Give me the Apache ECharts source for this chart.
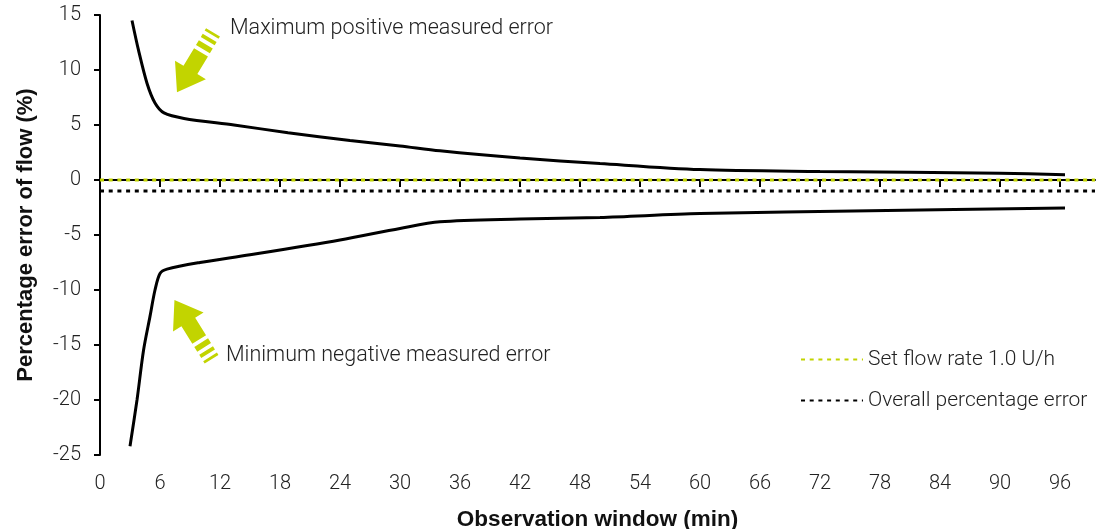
<!DOCTYPE html>
<html>
<head>
<meta charset="utf-8">
<script src="https://cdn.jsdelivr.net/npm/echarts@6/dist/echarts.min.js"></script>
<style>
  html, body { margin: 0; padding: 0; background: #fff; }
  #chart { width: 1098px; height: 529px; }
</style>
</head>
<body>
<div id="chart"></div>
<script>
// observation window (min) vs percentage error (%)
const maxX = [3.2, 3.85, 4.7, 5.5, 6.4, 8.4, 13.4, 18.8, 25, 30, 34, 42, 50, 60, 72, 90, 96.5]
const maxY = [14.5, 11.8, 8.8, 7.0, 6.1, 5.6, 5.0, 4.3, 3.6, 3.1, 2.65, 2.0, 1.5, 0.95, 0.78, 0.62, 0.48]
const minX = [3.0, 3.7, 4.35, 5.0, 5.5, 6.0, 6.7, 10, 15, 24, 30, 34, 42, 50, 60, 77, 96.5]
const minY = [-24.2, -20, -15.5, -12.4, -10, -8.5, -8.1, -7.5, -6.8, -5.45, -4.4, -3.8, -3.55, -3.4, -3.05, -2.8, -2.55]
const setFlow = 0
const overallError = -1.0
const xTicks = [0, 6, 12, 18, 24, 30, 36, 42, 48, 54, 60, 66, 72, 78, 84, 90, 96]
const xRange = [0, 99.5]

const font = 'Roboto'
const green = '#c2d400'
const arrowPath = 'path://M20 0 L40 28 L29 28 L29 50 L11 50 L11 28 L0 28 Z M11 54 L29 54 L29 60 L11 60 Z M11 64 L29 64 L29 68 L11 68 Z M11 72 L29 72 L29 75 L11 75 Z'

const zip = (xs, ys) => xs.map((x, i) => [x, ys[i]])

const chart = echarts.init(document.getElementById('chart'))
chart.setOption({
  animation: false,
  textStyle: { fontFamily: font },
  grid: { left: 100, right: 3, top: 15, bottom: 74, outerBoundsMode: 'none', containLabel: false },
  legend: {
    orient: 'vertical',
    left: 795,
    top: 344,
    itemWidth: 62,
    itemHeight: 14,
    itemGap: 20,
    itemStyle: { opacity: 0 },
    data: ['Set flow rate 1.0 U/h', 'Overall percentage error'],
    textStyle: { fontSize: 21, color: '#222', fontWeight: 300 }
  },
  xAxis: {
    type: 'value',
    min: xRange[0],
    max: xRange[1],
    interval: 6,
    name: 'Observation window (min)',
    nameLocation: 'middle',
    nameGap: 53,
    nameTextStyle: { fontSize: 22.5, fontWeight: 'bold', color: '#111', fontFamily: 'Liberation Sans' },
    splitLine: { show: false },
    axisLine: { lineStyle: { color: '#000', width: 2 } },
    axisTick: { length: 7, lineStyle: { color: '#000', width: 2 }, customValues: xTicks },
    axisLabel: { fontSize: 20, fontWeight: 300, color: '#222', margin: 19, customValues: xTicks }
  },
  yAxis: {
    type: 'value',
    min: -25,
    max: 15,
    interval: 5,
    name: 'Percentage error of flow (%)',
    nameLocation: 'middle',
    nameGap: 63,
    nameTextStyle: { fontSize: 22, fontWeight: 'bold', color: '#111', fontFamily: 'Liberation Sans' },
    splitLine: { show: false },
    axisLine: { show: true, lineStyle: { color: '#000', width: 2 } },
    axisTick: { show: true, length: 6, lineStyle: { color: '#000', width: 2 } },
    axisLabel: { fontSize: 20, fontWeight: 300, color: '#222', margin: 19 }
  },
  series: [
    {
      name: 'Set flow rate 1.0 U/h',
      type: 'line',
      symbol: 'none',
      data: [[xRange[0], setFlow], [xRange[1], setFlow]],
      lineStyle: { color: green, width: 3, type: [4, 4.7] },
      itemStyle: { color: green }
    },
    {
      name: 'Overall percentage error',
      type: 'line',
      symbol: 'none',
      data: [[xRange[0], overallError], [xRange[1], overallError]],
      lineStyle: { color: '#000', width: 3, type: [4, 4.7] },
      itemStyle: { color: '#000' }
    },
    {
      name: 'Maximum positive measured error',
      type: 'line',
      smooth: 0.3,
      symbol: 'none',
      data: zip(maxX, maxY),
      lineStyle: { color: '#000', width: 3 },
      markPoint: {
        silent: true,
        symbol: arrowPath,
        symbolSize: [36, 70],
        itemStyle: { color: green },
        label: { show: false },
        data: [
          { coord: [9.5, 10.7], symbolRotate: 149 },
          { coord: [9.3, -13.6], symbolRotate: 32 }
        ]
      }
    },
    {
      name: 'Minimum negative measured error',
      type: 'line',
      smooth: 0.3,
      symbol: 'none',
      data: zip(minX, minY),
      lineStyle: { color: '#000', width: 3 }
    }
  ],
  graphic: [
    {
      type: 'text',
      left: 230,
      top: 18,
      style: { text: 'Maximum positive measured error', fontSize: 21.5, fontFamily: font, fontWeight: 300, fill: '#222' }
    },
    {
      type: 'text',
      left: 226,
      top: 345,
      style: { text: 'Minimum negative measured error', fontSize: 21.5, fontFamily: font, fontWeight: 300, fill: '#222' }
    }
  ]
})
</script>
</body>
</html>
